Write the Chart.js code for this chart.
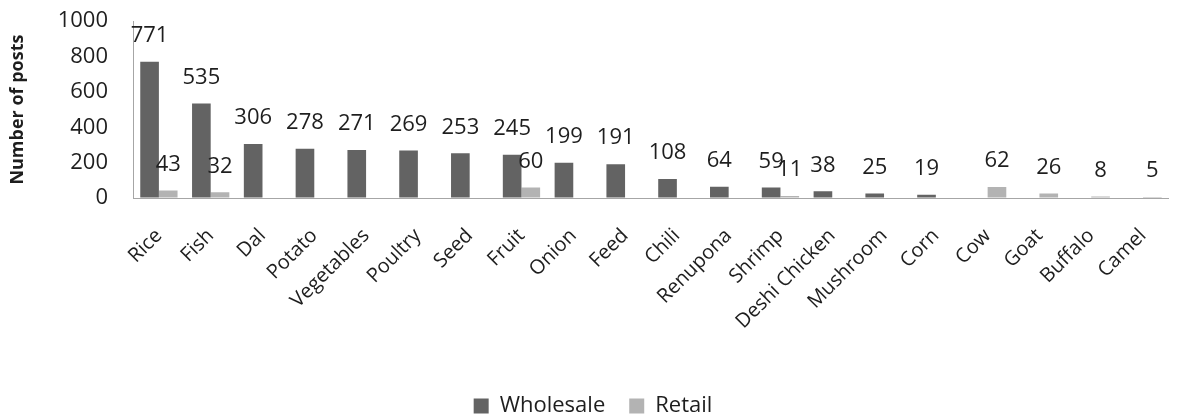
<!DOCTYPE html>
<html>
<head>
<meta charset="utf-8">
<script src="https://cdn.jsdelivr.net/npm/chart.js@4"></script>
<style>
  html, body { margin: 0; padding: 0; background: #fff; overflow: hidden; }
</style>
</head>
<body>
<canvas id="chart" width="1186" height="419"></canvas>
<script>
const categories = ['Rice', 'Fish', 'Dal', 'Potato', 'Vegetables', 'Poultry', 'Seed', 'Fruit', 'Onion', 'Feed',
  'Chili', 'Renupona', 'Shrimp', 'Deshi Chicken', 'Mushroom', 'Corn', 'Cow', 'Goat', 'Buffalo', 'Camel'];
const wholesale = [771, 535, 306, 278, 271, 269, 253, 245, 199, 191, 108, 64, 59, 38, 25, 19, null, null, null, null];
const retail = [43, 32, null, null, null, null, null, 60, null, null, null, null, 11, null, null, null, 62, 26, 8, 5];
const yTicks = [0, 200, 400, 600, 800, 1000];

const FONT = '"Open Sans", sans-serif';
const TEXT = '#1e1e1e';

// value labels drawn above each bar
const barLabels = {
  id: 'barLabels',
  afterDatasetsDraw(chart) {
    const ctx = chart.ctx;
    ctx.save();
    ctx.font = '22px ' + FONT;
    ctx.fillStyle = TEXT;
    ctx.textAlign = 'center';
    ctx.textBaseline = 'middle';
    chart.data.datasets.forEach((ds, i) => {
      const meta = chart.getDatasetMeta(i);
      meta.data.forEach((bar, j) => {
        const v = ds.data[j];
        if (v == null) return;
        ctx.fillText(String(v), bar.x, bar.y - 26);
      });
    });
    ctx.restore();
  },
};

// keep the legend a fixed height so it sits low like the original
const legendHeight = {
  id: 'legendHeight',
  afterInit(chart) {
    const legend = chart.legend;
    if (!legend) return;
    const fit = legend.fit.bind(legend);
    legend.fit = function () {
      fit();
      this.height = 48;
    };
  },
};

new Chart(document.getElementById('chart').getContext('2d'), {
  type: 'bar',
  data: {
    labels: categories,
    datasets: [
      { label: 'Wholesale', data: wholesale, backgroundColor: '#636363' },
      { label: 'Retail', data: retail, backgroundColor: '#b3b3b3' },
    ],
  },
  options: {
    responsive: false,
    animation: false,
    layout: { padding: { top: 8, left: 0, right: 0, bottom: 0 } },
    datasets: {
      bar: { categoryPercentage: 0.72, barPercentage: 1.0, skipNull: false },
    },
    scales: {
      x: {
        grid: { display: false, drawTicks: false },
        border: { display: true, color: '#a6a6a6', width: 1 },
        ticks: {
          color: TEXT,
          font: { family: FONT, size: 20 },
          minRotation: 45,
          maxRotation: 45,
          padding: 26,
          autoSkip: false,
        },
        afterFit: (scale) => { scale.height = 173; },
      },
      y: {
        min: 0,
        max: 1000,
        afterBuildTicks: (scale) => { scale.ticks = yTicks.map((v) => ({ value: v })); },
        // invisible tick marks push the labels away from the axis line
        grid: { display: true, drawOnChartArea: false, drawTicks: true, tickLength: 17, color: 'rgba(0,0,0,0)' },
        border: { display: true, color: '#a6a6a6', width: 1 },
        ticks: {
          color: TEXT,
          font: { family: FONT, size: 22 },
          padding: 8,
          callback: (v) => String(v),
        },
        title: {
          display: true,
          text: 'Number of posts',
          color: TEXT,
          font: { family: FONT, size: 18, weight: 'bold' },
          padding: { top: 7, bottom: 0 },
        },
        afterFit: (scale) => { scale.width = 133; },
      },
    },
    plugins: {
      legend: {
        position: 'bottom',
        labels: {
          color: TEXT,
          font: { family: FONT, size: 22 },
          boxWidth: 15,
          boxHeight: 15,
          padding: 24,
        },
      },
      tooltip: { enabled: false },
    },
  },
  plugins: [barLabels, legendHeight],
});
</script>
</body>
</html>
